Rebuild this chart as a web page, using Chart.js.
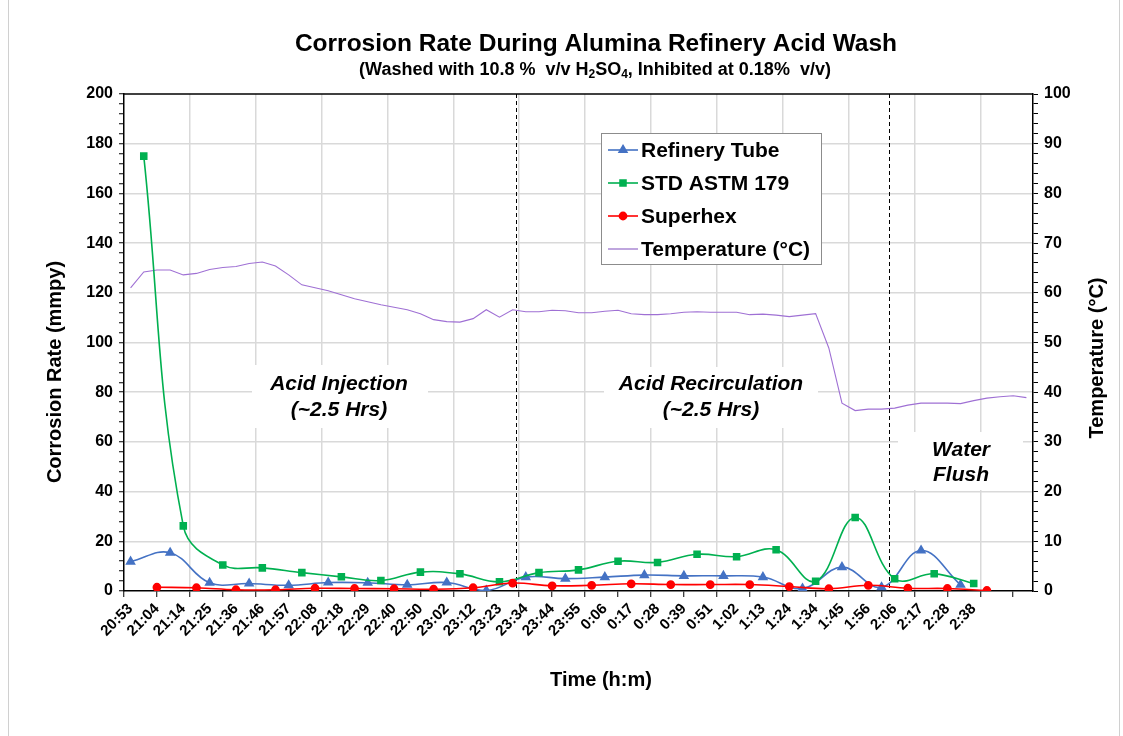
<!DOCTYPE html>
<html><head><meta charset="utf-8">
<script src="https://cdn.jsdelivr.net/npm/chart.js@4.4.1/dist/chart.umd.min.js"></script>
<style>html,body{margin:0;padding:0;background:#fff;}canvas{display:block;}</style>
</head><body>
<canvas id="c" width="1123" height="736"></canvas>
<script>
const FONT = "'Liberation Sans', Arial, Helvetica, sans-serif";

// x-axis tick labels (placed on every second category)
const timeLabels = ['20:53','21:04','21:14','21:25','21:36','21:46','21:57','22:08','22:18','22:29','22:40','22:50','23:02','23:12','23:23','23:34','23:44','23:55','0:06','0:17','0:28','0:39','0:51','1:02','1:13','1:24','1:34','1:45','1:56','2:06','2:17','2:28','2:38'];
const labelCategories = [0,2,4,6,8,10,12,14,16,18,20,22,24,26,28,30,32,34,36,38,40,42,44,46,48,50,52,54,56,58,60,62,64];

// Refinery Tube (mmpy)
const refineryTubeCats = [0,3,6,9,12,15,18,21,24,27,30,33,36,39,42,45,48,51,54,57,60,63];
const refineryTube = [11.8,15.4,3.3,3.0,2.3,3.4,3.3,2.5,3.4,0.2,5.6,5.0,5.6,6.4,6.1,6.1,5.6,1.0,9.6,1.5,16.3,2.5];

// STD ASTM 179 (mmpy)
const astmCats = [1,4,7,10,13,16,19,22,25,28,31,34,37,40,43,46,49,52,55,58,61,64];
const astm179 = [175,26.2,10.5,9.3,7.4,5.7,4.2,7.6,6.9,3.7,7.4,8.5,12.0,11.5,14.8,13.8,16.6,3.9,29.6,4.9,6.9,3.0];

// Superhex (mmpy)
const superhexCats = [2,5,8,11,14,17,20,23,26,29,32,35,38,41,44,47,50,53,56,59,62,65];
const superhex = [1.5,1.3,0.5,0.5,1.1,1.0,0.9,0.7,1.3,3.2,2.1,2.3,2.9,2.6,2.6,2.6,1.8,0.9,2.3,1.1,1.0,0.2];

// Temperature (°C), one reading per category 0..68
const temperature = [61.0,64.2,64.6,64.6,63.6,63.9,64.7,65.1,65.3,65.9,66.2,65.4,63.6,61.6,61.0,60.4,59.6,58.8,58.2,57.6,57.1,56.6,55.8,54.6,54.2,54.1,54.8,56.6,55.1,56.6,56.2,56.2,56.5,56.4,56.0,56.0,56.3,56.5,55.8,55.6,55.6,55.8,56.1,56.2,56.1,56.1,56.1,55.6,55.7,55.5,55.2,55.5,55.8,48.9,37.8,36.3,36.6,36.6,36.8,37.4,37.8,37.8,37.8,37.7,38.3,38.8,39.1,39.3,38.9];
const tempCats = temperature.map((_, i) => i);

const phaseBoundaries = [29.22, 57.55];

const pts = (cats, vals) => cats.map((c, i) => ({x: c, y: vals[i]}));

const titlePlugin = {
  id: 'titles',
  beforeDraw(chart) {
    const ctx = chart.ctx;
    ctx.save();
    ctx.fillStyle = '#fff';
    ctx.fillRect(0, 0, chart.width, chart.height);
    ctx.strokeStyle = '#d0d0d0';
    ctx.lineWidth = 1;
    ctx.strokeRect(8.5, -2, 1111, 740);
    ctx.fillStyle = '#000';
    ctx.textBaseline = 'middle';
    ctx.textAlign = 'center';
    ctx.font = 'bold 24.5px ' + FONT;
    ctx.fillText('Corrosion Rate During Alumina Refinery Acid Wash', 596, 44);
    // subtitle with subscripts
    const parts = [['(Washed with 10.8 %  v/v H', 0], ['2', 1], ['SO', 0], ['4', 1], [', Inhibited at 0.18%  v/v)', 0]];
    const big = 'bold 18px ' + FONT, small = 'bold 12px ' + FONT;
    let w = 0;
    parts.forEach(p => { ctx.font = p[1] ? small : big; w += ctx.measureText(p[0]).width; });
    let x = 595 - w / 2;
    ctx.textAlign = 'left';
    parts.forEach(p => {
      ctx.font = p[1] ? small : big;
      ctx.fillText(p[0], x, p[1] ? 75 : 70);
      x += ctx.measureText(p[0]).width;
    });
    ctx.restore();
  },
  afterDraw(chart) {
    const ctx = chart.ctx;
    ctx.save();
    ctx.fillStyle = '#000';
    ctx.textBaseline = 'middle';
    ctx.textAlign = 'center';
    ctx.font = 'bold 20px ' + FONT;
    ctx.fillText('Time (h:m)', 601, 680);
    ctx.translate(55, 372);
    ctx.rotate(-Math.PI / 2);
    ctx.fillText('Corrosion Rate (mmpy)', 0, 0);
    ctx.restore();
    ctx.save();
    ctx.fillStyle = '#000';
    ctx.textBaseline = 'middle';
    ctx.textAlign = 'center';
    ctx.font = 'bold 20px ' + FONT;
    ctx.translate(1097, 358);
    ctx.rotate(-Math.PI / 2);
    ctx.fillText('Temperature (°C)', 0, 0);
    ctx.restore();
  }
};

const annotPlugin = {
  id: 'annot',
  beforeDatasetsDraw(chart) {
    const ctx = chart.ctx, a = chart.chartArea, xs = chart.scales.x;
    ctx.save();
    ctx.fillStyle = '#fff';
    ctx.fillRect(252, 365, 176, 63);
    ctx.fillRect(604, 367, 214, 61);
    ctx.fillRect(898, 432, 125, 58);
    ctx.fillStyle = '#000';
    ctx.textAlign = 'center';
    ctx.textBaseline = 'middle';
    ctx.font = 'italic bold 21px ' + FONT;
    ctx.fillText('Acid Injection', 339, 384);
    ctx.fillText('(~2.5 Hrs)', 339, 410);
    ctx.fillText('Acid Recirculation', 711, 384);
    ctx.fillText('(~2.5 Hrs)', 711, 410);
    ctx.fillText('Water', 961, 450);
    ctx.fillText('Flush', 961, 475);
    ctx.strokeStyle = '#000';
    ctx.lineWidth = 1;
    ctx.setLineDash([4, 3]);
    phaseBoundaries.forEach(v => {
      const px = Math.round(xs.getPixelForValue(v)) + 0.5;
      ctx.beginPath();
      ctx.moveTo(px, a.top);
      ctx.lineTo(px, a.bottom);
      ctx.stroke();
    });
    ctx.setLineDash([]);
    ctx.lineWidth = 1.5;
    ctx.beginPath();
    ctx.moveTo(a.left, a.top);
    ctx.lineTo(a.right, a.top);
    ctx.stroke();
    ctx.restore();
  }
};

const legendPlugin = {
  id: 'boxLegend',
  afterDraw(chart) {
    const ctx = chart.ctx;
    ctx.save();
    ctx.fillStyle = '#fff';
    ctx.fillRect(601.5, 133.5, 220, 131);
    ctx.strokeStyle = '#8c8c8c';
    ctx.lineWidth = 1;
    ctx.strokeRect(601.5, 133.5, 220, 131);
    chart.data.datasets.forEach((ds, i) => {
      const y = 150 + i * 33;
      ctx.strokeStyle = ds.legendLineColor || ds.borderColor;
      ctx.lineWidth = ds.legendLineWidth || ds.borderWidth;
      ctx.beginPath();
      ctx.moveTo(608, y);
      ctx.lineTo(638, y);
      ctx.stroke();
      if (ds.pointRadius > 0) {
        ctx.fillStyle = ds.pointBackgroundColor;
        ctx.strokeStyle = ds.pointBorderColor;
        Chart.helpers.drawPoint(ctx, {pointStyle: ds.pointStyle, radius: ds.pointRadius, borderWidth: 1, rotation: 0}, 623, y);
      }
      ctx.fillStyle = '#000';
      ctx.font = 'bold 21px ' + FONT;
      ctx.textAlign = 'left';
      ctx.textBaseline = 'middle';
      ctx.fillText(ds.label, 641, y + 1);
    });
    ctx.restore();
  }
};

function xTicks() {
  const t = [];
  labelCategories.forEach((c, i) => t.push({value: c, g: 0, txt: timeLabels[i]}));
  for (let k = 0; k <= 27; k++) t.push({value: -0.5 + 2.5 * k, g: (k % 2 === 0 && k > 0) ? 2 : 1, txt: ''});
  t.sort((a, b) => a.value - b.value);
  return t;
}
function yTicks(max, step, major) {
  const t = [];
  for (let v = 0; v <= max + 1e-9; v += step) t.push({value: v, major: Math.abs(v / major - Math.round(v / major)) < 1e-6});
  return t;
}

const blue = '#4472C4', green = '#00B050', red = '#FF0000', purple = '#9F70D4';

new Chart(document.getElementById('c'), {
  type: 'line',
  data: {
    datasets: [
      {label: 'Refinery Tube', data: pts(refineryTubeCats, refineryTube), borderColor: blue, backgroundColor: blue,
       borderWidth: 1.6, pointStyle: 'triangle', pointRadius: 4.5, pointBackgroundColor: blue, pointBorderColor: blue,
       tension: 0.4, yAxisID: 'y', order: 3},
      {label: 'STD ASTM 179', data: pts(astmCats, astm179), borderColor: green, backgroundColor: green,
       borderWidth: 1.6, pointStyle: 'rect', pointRadius: 4.2, pointBackgroundColor: green, pointBorderColor: green,
       tension: 0.4, yAxisID: 'y', order: 2},
      {label: 'Superhex', data: pts(superhexCats, superhex), borderColor: red, backgroundColor: red,
       borderWidth: 1.6, pointStyle: 'circle', pointRadius: 3.6, pointBackgroundColor: red, pointBorderColor: red,
       tension: 0.4, yAxisID: 'y', order: 1},
      {label: 'Temperature (°C)', data: pts(tempCats, temperature), borderColor: purple, backgroundColor: purple,
       borderWidth: 1.1, pointRadius: 0, tension: 0, yAxisID: 'y2', order: 4,
       legendLineColor: '#BFA6DE', legendLineWidth: 2}
    ]
  },
  options: {
    responsive: false,
    animation: false,
    devicePixelRatio: 1,
    layout: {padding: {top: 94, left: 0, right: 0, bottom: 0}},
    plugins: {legend: {display: false}, title: {display: false}, tooltip: {enabled: false}},
    scales: {
      x: {
        type: 'linear', min: -0.5, max: 68.5, position: 'bottom',
        afterBuildTicks: s => { s.ticks = xTicks(); },
        afterFit: s => { s.height = 145; },
        ticks: {autoSkip: false, minRotation: 45, maxRotation: 45, padding: 3, color: '#000',
                font: {family: FONT, size: 15, weight: 'bold'},
                callback: (v, i, t) => t[i].txt},
        grid: {
          color: c => (c.tick && c.tick.g === 2) ? '#d9d9d9' : 'rgba(0,0,0,0)',
          tickColor: c => (c.tick && c.tick.g > 0) ? '#000' : 'rgba(0,0,0,0)',
          lineWidth: 1.5, tickWidth: 1, tickLength: 6, drawOnChartArea: true
        },
        border: {display: true, color: '#000', width: 1.5}
      },
      y: {
        type: 'linear', min: 0, max: 200, position: 'left',
        afterBuildTicks: s => { s.ticks = yTicks(200, 4, 20); },
        afterFit: s => { s.width = 124; },
        ticks: {autoSkip: false, padding: 6, color: '#000', font: {family: FONT, size: 16, weight: 'bold'},
                callback: (v, i, t) => t[i].major ? String(v) : ''},
        grid: {
          color: c => (c.tick && c.tick.major && c.tick.value > 0 && c.tick.value < 200) ? '#d9d9d9' : 'rgba(0,0,0,0)',
          tickColor: '#000', lineWidth: 1.5, tickWidth: 1, tickLength: 5
        },
        border: {display: true, color: '#000', width: 1.5}
      },
      y2: {
        type: 'linear', min: 0, max: 100, position: 'right',
        afterBuildTicks: s => { s.ticks = yTicks(100, 2, 10); },
        afterFit: s => { s.width = 90; },
        ticks: {autoSkip: false, padding: 6, color: '#000', font: {family: FONT, size: 16, weight: 'bold'},
                callback: (v, i, t) => t[i].major ? String(v) : ''},
        grid: {drawOnChartArea: false, tickColor: '#000', tickWidth: 1, tickLength: 5},
        border: {display: true, color: '#000', width: 1.5}
      }
    }
  },
  plugins: [titlePlugin, annotPlugin, legendPlugin]
});
</script>
</body></html>
